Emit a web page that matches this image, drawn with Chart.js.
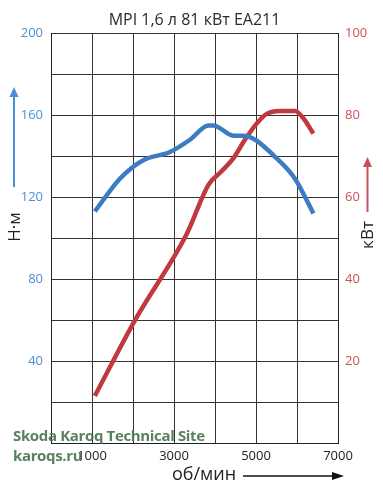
<!DOCTYPE html>
<html><head><meta charset="utf-8">
<script src="https://cdn.jsdelivr.net/npm/chart.js@4/dist/chart.umd.min.js"></script>
<style>
html,body{margin:0;padding:0;background:#fff;}
#wrap{position:relative;width:383px;height:495px;}
#wm{position:absolute;left:13px;top:425px;font-family:"Open Sans",sans-serif;font-weight:700;font-size:15px;line-height:20px;color:rgba(70,115,75,0.9);letter-spacing:-0.35px;pointer-events:none;}
</style></head><body>
<div id="wrap"><canvas id="c" width="383" height="495"></canvas>
<div id="wm">Skoda Karoq Technical Site<br>karoqs.ru</div></div>
<script>
const titleText = "MPI 1,6 л 81 кВт EA211";
const torqueRpm = [1070, 1680, 2250, 2900, 3390, 3840, 3960, 4450, 4690, 4980, 5420, 5950, 6400];
const torqueNm  = [113, 129, 138, 142, 148, 155, 155, 150, 150, 148, 140.5, 129, 112];
const powerRpm  = [1070, 2050, 3310, 3840, 4160, 4450, 4730, 5020, 5260, 5590, 5950, 6150, 6400];
const powerKw   = [11.5, 30, 51, 63, 66.3, 69.5, 74, 78, 80.3, 81, 81, 79.3, 75.5];
const xTickLabels = [1000, 3000, 5000, 7000];
const leftTickLabels = [40, 80, 120, 160, 200];
const rightTickLabels = [20, 40, 60, 80, 100];
const leftTitle = "Н·м", rightTitle = "кВт", xTitle = "об/мин";

const blue = "#3d7cc2", red = "#c0393f";
const blueTxt = "#4a8fd4", redTxt = "#cf4f5a";

const extras = {
  id: 'extras',
  afterDraw(chart) {
    const ctx = chart.ctx;
    ctx.save();
    function arrowV(x, y1, y2, col) {
      ctx.strokeStyle = col; ctx.fillStyle = col; ctx.lineWidth = 2;
      ctx.beginPath(); ctx.moveTo(x, y1); ctx.lineTo(x, y2 + 8); ctx.stroke();
      ctx.beginPath(); ctx.moveTo(x, y2); ctx.lineTo(x - 4.5, y2 + 10); ctx.lineTo(x + 4.5, y2 + 10); ctx.closePath(); ctx.fill();
    }
    arrowV(14, 187, 87, "#4a8fd4");
    arrowV(367.5, 212, 157, "#c8505c");
    ctx.font = '17px "Open Sans", sans-serif';
    ctx.fillStyle = "#222"; ctx.textAlign = "center"; ctx.textBaseline = "middle";
    ctx.save(); ctx.translate(15, 227); ctx.rotate(-Math.PI/2); ctx.fillText(leftTitle, 0, 0); ctx.restore();
    ctx.save(); ctx.translate(368, 235); ctx.rotate(-Math.PI/2); ctx.fillText(rightTitle, 0, 0); ctx.restore();
    ctx.font = '18px "Open Sans", sans-serif';
    ctx.fillText(xTitle, 204, 475);
    ctx.strokeStyle = "#111"; ctx.fillStyle = "#111"; ctx.lineWidth = 1.5;
    ctx.beginPath(); ctx.moveTo(243, 476); ctx.lineTo(334, 476); ctx.stroke();
    ctx.beginPath(); ctx.moveTo(344, 476); ctx.lineTo(332, 472); ctx.lineTo(332, 480); ctx.closePath(); ctx.fill();
    ctx.restore();
  }
};

new Chart(document.getElementById('c'), {
  type: 'line',
  data: {
    datasets: [
      { data: torqueRpm.map((x,i)=>({x, y: torqueNm[i]})), yAxisID: 'y', borderColor: blue, borderWidth: 4.5, pointRadius: 0, cubicInterpolationMode: 'monotone', fill: false },
      { data: powerRpm.map((x,i)=>({x, y: powerKw[i]})), yAxisID: 'y2', borderColor: red, borderWidth: 4.5, pointRadius: 0, cubicInterpolationMode: 'monotone', fill: false }
    ]
  },
  options: {
    responsive: false, animation: false,
    layout: { padding: 0 },
    plugins: {
      legend: { display: false }, tooltip: { enabled: false },
      title: { display: true, text: titleText, fullSize: false, color: '#2a2a2a',
               font: { family: '"Open Sans", sans-serif', size: 16, weight: 400 }, padding: { top: 11, bottom: 3 } }
    },
    scales: {
      x: { type: 'linear', min: 0, max: 7000,
           ticks: { stepSize: 1000, autoSkip: false, maxRotation: 0, padding: 5, color: '#222',
                    font: { family: '"Open Sans", sans-serif', size: 13 },
                    callback: v => xTickLabels.includes(v) ? String(v) : '' },
           grid: { color: '#333', lineWidth: 1, drawTicks: false },
           border: { color: '#222', width: 1 },
           afterFit: s => { s.height = 52; } },
      y: { position: 'left', min: 0, max: 200,
           ticks: { stepSize: 20, autoSkip: false, padding: 8, color: blueTxt,
                    font: { family: '"Open Sans", sans-serif', size: 13 },
                    callback: v => leftTickLabels.includes(v) ? String(v) : '' },
           grid: { color: '#333', lineWidth: 1, drawTicks: false },
           border: { color: '#222', width: 1 },
           afterFit: s => { s.width = 51; } },
      y2: { position: 'right', min: 0, max: 100,
           ticks: { stepSize: 10, autoSkip: false, padding: 7, color: redTxt,
                    font: { family: '"Open Sans", sans-serif', size: 13 },
                    callback: v => rightTickLabels.includes(v) ? String(v) : '' },
           grid: { drawOnChartArea: false, drawTicks: false },
           border: { color: '#222', width: 1 },
           afterFit: s => { s.width = 45; } }
    }
  },
  plugins: [extras]
});
</script>
</body></html>
